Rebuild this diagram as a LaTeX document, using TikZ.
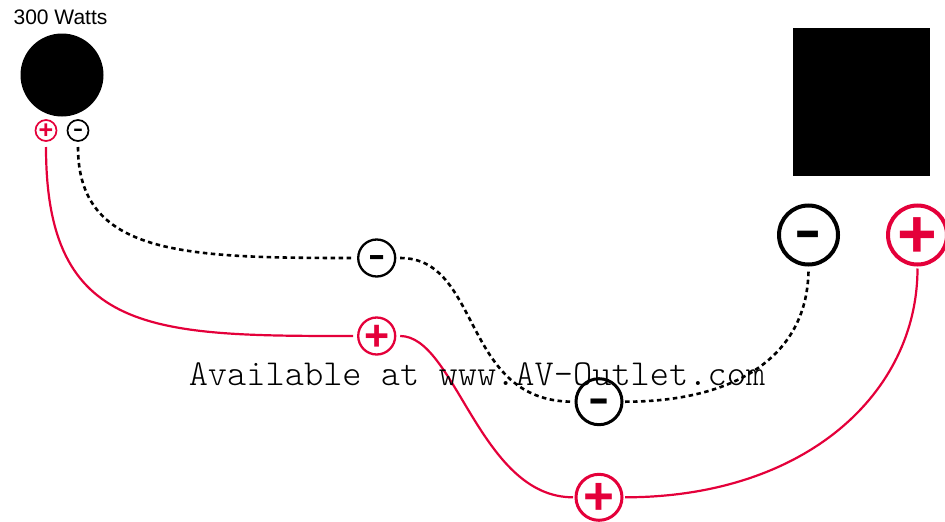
\documentclass[tikz,border=0pt]{standalone}
\usepackage{fontspec}
\setmainfont{Liberation Sans}
\usepackage{xcolor}
\definecolor{polered}{HTML}{E4003A}
\newcommand{\plusmark}{\raisebox{-.33em}[0pt][0pt]{\textbf{+}}}
\newcommand{\minusmark}{\raisebox{-.2em}[0pt][0pt]{\scalebox{1.2}[.8]{\textbf{-}}}}
\tikzset{
  pole/.style={circle,draw,fill=white,inner sep=0pt},
  poleredd/.style={draw=polered,text=polered},
  polesmall/.style={pole,minimum size=21pt,line width=1.7pt,outer sep=6pt,font=\fontsize{25}{25}\selectfont},
  polemid/.style={pole,minimum size=37pt,line width=2.3pt,outer sep=5pt,font=\fontsize{43}{43}\selectfont},
  polelow/.style={pole,minimum size=46pt,line width=3pt,outer sep=3pt,font=\fontsize{53}{53}\selectfont},
  polebig/.style={pole,minimum size=59pt,line width=4pt,outer sep=4pt,font=\fontsize{68}{68}\selectfont},
  wirepos/.style={polered,line width=2.2pt},
  wireneg/.style={black,line width=2.6pt,dash pattern=on 4.5pt off 3.5pt},
}
\begin{document}
\begin{tikzpicture}[x=1pt,y=-1pt]
   \useasboundingbox (0,0) rectangle (945,522); % same size as the reference
   \node[circle,fill,minimum size=83pt,inner sep=0pt] (speaker) at (62,75) {};
   \node (watts) at (60.5,17) {\fontsize{21}{21}\selectfont 300 Watts};
   \node[fill,minimum width=137pt,minimum height=148pt,inner sep=0pt] (amp) at (861.5,102) {};
   % terminals, from speaker to amp
   \node[polesmall,poleredd] (spkplus) at (46,130.5) {\plusmark};
   \node[polesmall] (spkminus) at (78,130.5) {\minusmark};
   \node[polemid,poleredd] (midplus) at (376.7,336) {\plusmark};
   \node[polemid] (midminus) at (376.7,258) {\minusmark};
   \node[polelow,poleredd] (lowplus) at (599,497.3) {\plusmark};
   \node[polelow] (lowminus) at (599,401.7) {\minusmark};
   \node[polebig,poleredd] (ampplus) at (917.5,235) {\plusmark};
   \node[polebig] (ampminus) at (808.5,235) {\minusmark};
   % red wire
   \draw[wirepos] (spkplus.south) .. controls +(0,188) and +(-200,0) .. (midplus.west);
   \draw[wirepos] (midplus.east) .. controls +(55,0) and +(-93,0) .. (lowplus.west);
   \draw[wirepos] (lowplus.east) .. controls +(180,0) and +(0,125) .. (ampplus.south);
   % black wire
   \draw[wireneg] (spkminus.south) .. controls +(0,108) and +(-170,0) .. (midminus.west);
   \draw[wireneg] (midminus.east) .. controls +(82,0) and +(-112,0) .. (lowminus.west);
   \draw[wireneg] (lowminus.east) .. controls +(110,0) and +(0,88) .. (ampminus.south);
   \node[text=black] (avoutlet) at (477,374) {\ttfamily\fontseries{l}\fontsize{36.6}{36.6}\selectfont Available at www.AV-Outlet.com};
\end{tikzpicture}
\end{document}
